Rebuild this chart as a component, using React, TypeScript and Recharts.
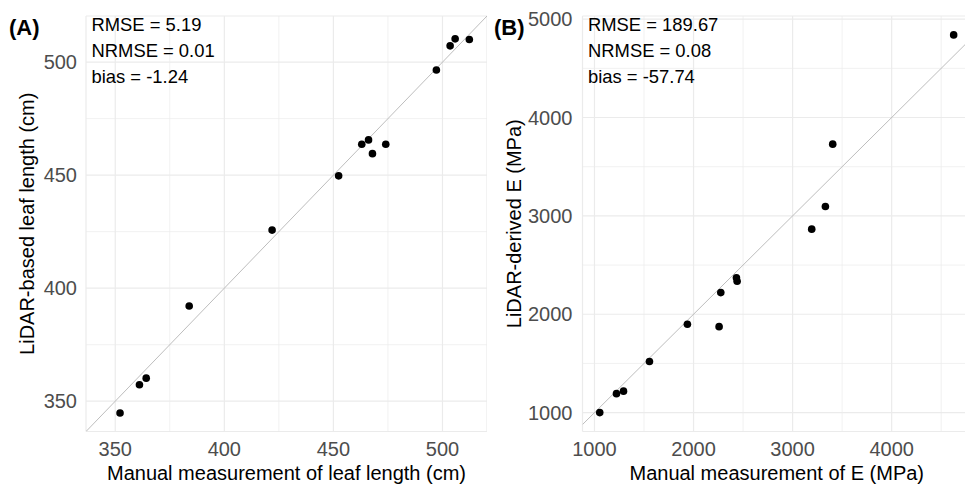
import React from "react";
import {
  ScatterChart,
  Scatter,
  XAxis,
  YAxis,
  CartesianGrid,
  ReferenceLine,
} from "recharts";

// ---------- Panel A: leaf length (cm) ----------
const manualLengthA = [352.2, 361.1, 364.2, 383.9, 421.9, 452.4, 463.0, 466.1, 467.9, 474.0, 497.2, 503.5, 505.8, 512.3];
const lidarLengthA = [344.8, 357.3, 360.2, 392.1, 425.7, 449.7, 463.7, 465.6, 459.5, 463.7, 496.5, 507.2, 510.3, 510.0];
const domainA = [336.6, 520.4];
const majorTicksA = [350, 400, 450, 500];
const minorTicksA = [375, 425, 475];
const statsA = ["RMSE = 5.19", "NRMSE = 0.01", "bias = -1.24"];

// ---------- Panel B: E (MPa) ----------
const manualEB = [1053, 1222, 1293, 1555, 1938, 2258, 2275, 2433, 2440, 3193, 3331, 3405, 4626];
const lidarEB = [1000, 1193, 1218, 1519, 1899, 1874, 2220, 2370, 2336, 2865, 3095, 3729, 4840];
const xDomainB = [879, 4801];
const yDomainB = [808, 5032];
const majorXTicksB = [1000, 2000, 3000, 4000];
const minorXTicksB = [1500, 2500, 3500, 4500];
const majorYTicksB = [1000, 2000, 3000, 4000, 5000];
const minorYTicksB = [1500, 2500, 3500, 4500];
const statsB = ["RMSE = 189.67", "NRMSE = 0.08", "bias = -57.74"];

const dataA = manualLengthA.map((x, i) => ({ x, y: lidarLengthA[i] }));
const dataB = manualEB.map((x, i) => ({ x, y: lidarEB[i] }));

const FONT = "'Liberation Sans', Arial, Helvetica, sans-serif";
const tickStyle = { fontSize: 20, fill: "#4d4d4d", fontFamily: FONT };
const GRID = "#ebebeb";

const Dot = (props: any) => {
  const { cx, cy } = props;
  if (cx == null || cy == null) return null;
  return <circle cx={cx} cy={cy} r={3.8} fill="#000" />;
};

export default function App() {
  return (
    <div
      style={{
        position: "absolute",
        left: 0,
        top: 0,
        width: 965,
        height: 486,
        overflow: "hidden",
        background: "#fff",
        fontFamily: FONT,
      }}
    >
      {/* Panel A */}
      <div style={{ position: "absolute", left: 0, top: 0 }}>
        <ScatterChart width={487} height={486} margin={{ top: 16, right: 0, bottom: 0, left: 0 }}>
          <CartesianGrid stroke={GRID} strokeWidth={1.2} />
          {minorTicksA.map((v) => (
            <ReferenceLine key={"vx" + v} x={v} stroke={GRID} strokeWidth={0.7} ifOverflow="hidden" />
          ))}
          {minorTicksA.map((v) => (
            <ReferenceLine key={"hy" + v} y={v} stroke={GRID} strokeWidth={0.7} ifOverflow="hidden" />
          ))}
          <XAxis
            type="number"
            dataKey="x"
            domain={domainA}
            ticks={majorTicksA}
            allowDataOverflow
            axisLine={false}
            tickLine={false}
            tickSize={6}
            tickMargin={4}
            height={54.5}
            tick={tickStyle}
            label={{
              value: "Manual measurement of leaf length (cm)",
              position: "insideBottom",
              offset: 6.5,
              style: { fontSize: 20, fill: "#000", fontFamily: FONT },
            }}
          />
          <YAxis
            type="number"
            dataKey="y"
            domain={domainA}
            ticks={majorTicksA}
            allowDataOverflow
            axisLine={false}
            tickLine={false}
            tickSize={6}
            tickMargin={3}
            width={86}
            tick={tickStyle}
            label={{
              value: "LiDAR-based leaf length (cm)",
              angle: -90,
              position: "insideLeft",
              offset: 27,
              style: { fontSize: 20, fill: "#000", fontFamily: FONT, textAnchor: "middle" },
            }}
          />
          <ReferenceLine
            segment={[
              { x: domainA[0], y: domainA[0] },
              { x: domainA[1], y: domainA[1] },
            ]}
            stroke="#b5b5b5"
            strokeWidth={0.9}
            ifOverflow="hidden"
          />
          <Scatter data={dataA} shape={Dot} isAnimationActive={false} />
        </ScatterChart>
      </div>

      {/* Panel B */}
      <div style={{ position: "absolute", left: 487, top: 0 }}>
        <ScatterChart width={484} height={486} margin={{ top: 16, right: 0, bottom: 0, left: 0 }}>
          <CartesianGrid stroke={GRID} strokeWidth={1.2} />
          {minorXTicksB.map((v) => (
            <ReferenceLine key={"vx" + v} x={v} stroke={GRID} strokeWidth={0.7} ifOverflow="hidden" />
          ))}
          {minorYTicksB.map((v) => (
            <ReferenceLine key={"hy" + v} y={v} stroke={GRID} strokeWidth={0.7} ifOverflow="hidden" />
          ))}
          <XAxis
            type="number"
            dataKey="x"
            domain={xDomainB}
            ticks={majorXTicksB}
            allowDataOverflow
            axisLine={false}
            tickLine={false}
            tickSize={6}
            tickMargin={4}
            height={54.5}
            tick={tickStyle}
            label={{
              value: "Manual measurement of E (MPa)",
              position: "insideBottom",
              offset: 6.5,
              style: { fontSize: 20, fill: "#000", fontFamily: FONT },
            }}
          />
          <YAxis
            type="number"
            dataKey="y"
            domain={yDomainB}
            ticks={majorYTicksB}
            allowDataOverflow
            axisLine={false}
            tickLine={false}
            tickSize={6}
            tickMargin={4}
            width={95.5}
            tick={tickStyle}
            label={{
              value: "LiDAR-derived E (MPa)",
              angle: -90,
              position: "insideLeft",
              offset: 27,
              style: { fontSize: 20, fill: "#000", fontFamily: FONT, textAnchor: "middle" },
            }}
          />
          <ReferenceLine
            segment={[
              { x: xDomainB[0], y: xDomainB[0] },
              { x: xDomainB[1], y: xDomainB[1] },
            ]}
            stroke="#b5b5b5"
            strokeWidth={0.9}
            ifOverflow="hidden"
          />
          <Scatter data={dataB} shape={Dot} isAnimationActive={false} />
        </ScatterChart>
      </div>

      {/* Panel tags and statistics */}
      <svg
        width={965}
        height={486}
        style={{ position: "absolute", left: 0, top: 0, pointerEvents: "none" }}
      >
        <text x={9} y={34.5} fontSize={22} fontWeight="bold" fontFamily={FONT} fill="#000">
          (A)
        </text>
        <text x={494} y={34.5} fontSize={22} fontWeight="bold" fontFamily={FONT} fill="#000">
          (B)
        </text>
        {statsA.map((s, i) => (
          <text key={s} x={91.5} y={30.7 + i * 26.3} fontSize={18.4} fontFamily={FONT} fill="#000">
            {s}
          </text>
        ))}
        {statsB.map((s, i) => (
          <text key={s} x={588} y={30.7 + i * 26.3} fontSize={18.4} fontFamily={FONT} fill="#000">
            {s}
          </text>
        ))}
      </svg>
    </div>
  );
}
